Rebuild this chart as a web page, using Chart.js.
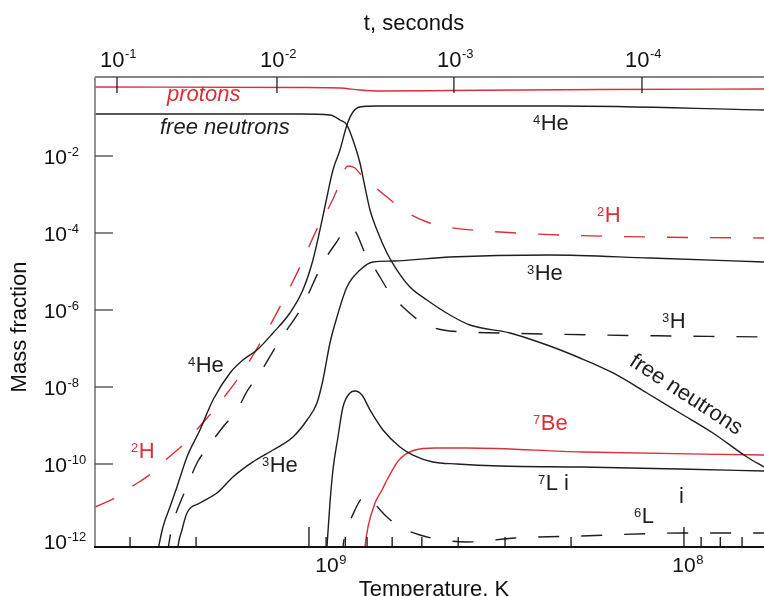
<!DOCTYPE html>
<html><head><meta charset="utf-8">
<script src="https://cdn.jsdelivr.net/npm/chart.js@4.4.1/dist/chart.umd.min.js"></script>
<style>html,body{margin:0;padding:0;background:#fff;}canvas{display:block;}</style>
</head><body>
<canvas id="c" width="764" height="596"></canvas>
<script>
// ---- axis ranges and ticks ----
const tempMin = 6.117e7, tempMax = 3.72e9;
const fracMin = 6.98e-13, fracMax = 1.127;
const fracTickExponents = [-2, -4, -6, -8, -10, -12];
const tempMajorTicks = [1e9, 1e8];
const tempMajorExponents = ['9', '8'];
const tempMinorTicks = [3e9, 2e9, 9e8, 8e8, 7e8, 6e8, 5e8, 4e8, 3e8, 2e8, 9e7, 8e7, 7e7];
const timeTickExponents = ['-1', '-2', '-3', '-4'];
const timeTickTemps = [3.25e9, 1.217e9, 4.106e8, 1.294e8];

// ---- series (temperature K, mass fraction) ----
const protonsT = [3.72e9, 1.057e9, 8.266e8, 7.311e8, 6.466e8, 4.207e8, 1.675e8, 6.117e7];
const protonsF = [0.62, 0.601, 0.583, 0.518, 0.488, 0.503, 0.533, 0.55];

const neutronsT = [3.72e9, 1.057e9, 8.79e8, 8.266e8, 7.92e8, 7.632e8, 7.311e8, 7.09e8, 6.875e8, 6.587e8, 6.194e8, 5.825e8, 5.379e8, 4.846e8, 4.207e8, 3.721e8, 2.911e8, 2.318e8, 1.894e8, 1.546e8, 1.255e8, 1.025e8, 8.37e7, 6.792e7, 6.117e7];
const neutronsF = [0.123, 0.123, 0.116, 0.0861, 0.0638, 0.0261, 6.58e-3, 1.57e-3, 3.96e-4, 1.2e-4, 3.03e-5, 1.09e-5, 3.96e-6, 1.82e-6, 7.41e-7, 4.07e-7, 2.53e-7, 1.23e-7, 5.66e-8, 2.31e-8, 6.98e-9, 2.11e-9, 6.38e-10, 1.52e-10, 8.36e-11];

const he4T = [2.543e9, 2.451e9, 2.348e9, 2.249e9, 2.115e9, 1.953e9, 1.803e9, 1.624e9, 1.5e9, 1.376e9, 1.247e9, 1.124e9, 1.038e9, 9.757e8, 9.347e8, 8.954e8, 8.63e8, 8.266e8, 7.92e8, 7.632e8, 7.311e8, 6.587e8, 2.141e8, 6.117e7];
const he4F = [4.3e-13, 2.31e-12, 7.64e-12, 2.53e-11, 1.52e-10, 7.64e-10, 4.59e-9, 2.31e-8, 5.02e-8, 9.14e-8, 2.53e-7, 8.36e-7, 3.31e-6, 1.99e-5, 1.2e-4, 8.61e-4, 4.33e-3, 0.0143, 0.0638, 0.139, 0.1875, 0.199, 0.199, 0.157];

const h2T = [3.72e9, 3.29e9, 2.947e9, 2.623e9, 2.377e9, 2.141e9, 1.953e9, 1.781e9, 1.644e9, 1.509e9, 1.335e9, 1.195e9, 1.057e9, 9.462e8, 9.065e8, 8.42e8, 8.116e8, 7.87e8, 7.539e8, 7.178e8, 6.875e8, 6.194e8, 5.615e8, 4.846e8, 4.285e8, 3.095e8, 2.141e8, 1.232e8, 6.117e7];
const h2F = [7.64e-12, 1.31e-11, 2.69e-11, 5.83e-11, 1.43e-10, 3.51e-10, 9.7e-10, 2.69e-9, 7.41e-9, 2.31e-8, 1.66e-7, 1.2e-6, 1.31e-5, 1.43e-4, 2.94e-4, 1.31e-3, 3.62e-3, 5.5e-3, 4.88e-3, 2.85e-3, 1.99e-3, 8.61e-4, 3.96e-4, 1.93e-4, 1.43e-4, 1.06e-4, 8.87e-5, 7.87e-5, 7.41e-5];

const h3T = [2.391e9, 2.319e9, 2.208e9, 2.115e9, 1.989e9, 1.859e9, 1.696e9, 1.556e9, 1.455e9, 1.351e9, 1.195e9, 1.044e9, 9.177e8, 8.472e8, 7.87e8, 7.539e8, 7.09e8, 6.587e8, 6.081e8, 5.615e8, 4.966e8, 4.392e8, 3.095e8, 1.675e8, 6.117e7];
const h3F = [4.3e-13, 2.31e-12, 9.7e-12, 2.53e-11, 1.06e-10, 2.77e-10, 9.14e-10, 2.53e-9, 8.36e-9, 2.31e-8, 1.66e-7, 1.2e-6, 1.66e-5, 5.5e-5, 1.35e-4, 1.13e-4, 3.03e-5, 9.7e-6, 2.77e-6, 1.2e-6, 4.59e-7, 3.03e-7, 2.53e-7, 2.24e-7, 1.99e-7];

const he3T = [2.249e9, 2.235e9, 2.181e9, 2.115e9, 1.953e9, 1.759e9, 1.595e9, 1.411e9, 1.247e9, 1.103e9, 1.012e9, 9.521e8, 9.177e8, 8.79e8, 8.42e8, 7.92e8, 7.311e8, 6.75e8, 5.97e8, 4.207e8, 2.276e8, 1.232e8, 6.117e7];
const he3F = [3.2e-13, 6.98e-13, 1.93e-12, 5.33e-12, 9.7e-12, 1.77e-11, 4.59e-11, 1.13e-10, 2.31e-10, 5.02e-10, 1.39e-9, 3.84e-9, 1.52e-8, 1.39e-7, 6.58e-7, 3.96e-6, 1.09e-5, 1.77e-5, 1.87e-5, 2.38e-5, 2.69e-5, 2.24e-5, 1.77e-5];

const li7T = [9.009e8, 8.954e8, 8.79e8, 8.63e8, 8.368e8, 8.116e8, 7.774e8, 7.539e8, 7.222e8, 6.875e8, 6.348e8, 5.719e8, 5.281e8, 4.671e8, 4.03e8, 3.095e8, 1.871e8, 1.025e8, 6.117e7];
const li7F = [3.2e-13, 6.98e-13, 9.7e-12, 6.98e-11, 5.02e-10, 3.03e-9, 6.98e-9, 7.87e-9, 6.19e-9, 2.53e-9, 7.64e-10, 2.77e-10, 1.71e-10, 1.13e-10, 1.0e-10, 8.87e-11, 8.36e-11, 7.41e-11, 6.58e-11];

const be7T = [7.134e8, 7.09e8, 6.96e8, 6.668e8, 6.387e8, 6.194e8, 5.754e8, 5.216e8, 4.613e8, 3.79e8, 1.871e8, 6.117e7];
const be7F = [3.2e-13, 6.98e-13, 2.31e-12, 9.7e-12, 2.11e-11, 3.84e-11, 1.27e-10, 2.31e-10, 2.61e-10, 2.61e-10, 2.05e-10, 1.71e-10];

const li6T = [8.166e8, 8.116e8, 7.87e8, 7.539e8, 7.222e8, 7.003e8, 6.75e8, 6.194e8, 5.719e8, 5.058e8, 4.392e8, 3.79e8, 2.822e8, 1.871e8, 1.012e8, 6.117e7];
const li6F = [3.2e-13, 6.98e-13, 2.31e-12, 6.38e-12, 1.31e-11, 1.48e-11, 1.03e-11, 4.2e-12, 2.31e-12, 1.43e-12, 1.06e-12, 9.4e-13, 1.2e-12, 1.35e-12, 1.61e-12, 1.61e-12];

// ---- styling ----
const RED = '#d8303a';
const INK = '#1e1e1e';
const FONT = "'Liberation Sans', Arial, sans-serif";
const DASH = [21, 22];

const pts = (T, F) => T.map((t, i) => ({x: t, y: F[i]}));
function series(T, F, color, dashed) {
  return {
    data: pts(T, F), borderColor: color, borderWidth: 1.4, pointRadius: 0,
    fill: false, borderDash: dashed ? DASH : [], cubicInterpolationMode: 'monotone', clip: 0
  };
}

// ---- label positions (canvas px) ----
const notes = [
  {sup: '', main: 'protons', x: 167, y: 101, color: RED, italic: true},
  {sup: '', main: 'free neutrons', x: 160, y: 134, color: INK, italic: true},
  {sup: '4', main: 'He', x: 533, y: 130, color: INK},
  {sup: '2', main: 'H', x: 597, y: 222, color: RED},
  {sup: '3', main: 'He', x: 527, y: 280, color: INK},
  {sup: '3', main: 'H', x: 662, y: 328, color: INK},
  {sup: '7', main: 'Be', x: 533, y: 430, color: RED},
  {sup: '7', main: 'L i', x: 538, y: 490, color: INK},
  {sup: '', main: 'i', x: 679, y: 503, color: INK},
  {sup: '6', main: 'L', x: 634, y: 523, color: INK},
  {sup: '4', main: 'He', x: 188, y: 372, color: INK},
  {sup: '2', main: 'H', x: 131, y: 458, color: RED},
  {sup: '3', main: 'He', x: 262, y: 472, color: INK}
];

function seg(ctx, x1, y1, x2, y2) { ctx.beginPath(); ctx.moveTo(x1, y1); ctx.lineTo(x2, y2); ctx.stroke(); }

const decor = {
  id: 'decor',
  afterDraw(chart) {
    const {ctx, chartArea: a} = chart;
    const xs = chart.scales.x, ys = chart.scales.y;
    ctx.save();
    ctx.lineCap = 'butt';
    // frame
    ctx.lineWidth = 1.8;
    ctx.strokeStyle = '#858585';
    seg(ctx, a.left, a.top, a.right, a.top);
    seg(ctx, a.left, a.top, a.left, a.bottom + 1);
    ctx.strokeStyle = '#111';
    seg(ctx, a.left - 1, a.bottom, a.right, a.bottom);

    // y ticks + labels
    ctx.lineWidth = 1.3;
    ctx.strokeStyle = '#444';
    ctx.fillStyle = '#111';
    ctx.textBaseline = 'alphabetic';
    fracTickExponents.forEach(e => {
      const py = ys.getPixelForValue(Math.pow(10, e));
      if (e > -12) seg(ctx, a.left, py, a.left + 18, py);
      ctx.font = '21px ' + FONT; ctx.textAlign = 'right';
      ctx.fillText('10', 67, py + 8);
      ctx.font = '13px ' + FONT; ctx.textAlign = 'left';
      ctx.fillText(String(e), 67.5, py);
    });

    // bottom ticks + labels
    ctx.strokeStyle = '#111';
    tempMinorTicks.forEach(v => {
      const px = xs.getPixelForValue(v);
      if (px > a.left + 2 && px < a.right - 1) seg(ctx, px, a.bottom, px, a.bottom - 10);
    });
    tempMajorTicks.forEach((v, i) => {
      const px = xs.getPixelForValue(v);
      seg(ctx, px, a.bottom, px, a.bottom - 20);
      const lx = px + (v === 1e9 ? 18 : 0);
      ctx.font = '21px ' + FONT; ctx.textAlign = 'center';
      ctx.fillText('10', lx, a.bottom + 25);
      const w = ctx.measureText('10').width;
      ctx.font = '13px ' + FONT; ctx.textAlign = 'left';
      ctx.fillText(tempMajorExponents[i], lx + w / 2 + 0.5, a.bottom + 17);
    });

    // top (time) ticks + labels
    ctx.strokeStyle = '#222';
    timeTickTemps.forEach((v, i) => {
      const px = xs.getPixelForValue(v);
      seg(ctx, px, a.top, px, a.top + 16);
      ctx.font = '22px ' + FONT;
      const w1 = ctx.measureText('10').width;
      ctx.font = '13px ' + FONT;
      const w2 = ctx.measureText(timeTickExponents[i]).width;
      const left = px + 1 - (w1 + w2) / 2;
      ctx.textAlign = 'left';
      ctx.font = '22px ' + FONT;
      ctx.fillText('10', left, a.top - 10);
      ctx.font = '13px ' + FONT;
      ctx.fillText(timeTickExponents[i], left + w1 + 0.5, a.top - 19);
    });

    // axis titles
    ctx.fillStyle = '#111';
    ctx.font = '22px ' + FONT;
    ctx.textAlign = 'center';
    ctx.fillText('t, seconds', 414, 30);
    ctx.fillText('Temperature, K', 434, 596);
    ctx.save();
    ctx.translate(26, 327);
    ctx.rotate(-Math.PI / 2);
    ctx.fillText('Mass fraction', 0, 0);
    ctx.restore();

    // curve annotations
    notes.forEach(n => {
      ctx.fillStyle = n.color;
      ctx.textAlign = 'left';
      let x = n.x;
      if (n.sup) {
        ctx.font = '13px ' + FONT;
        ctx.fillText(n.sup, x, n.y - 6);
        x += ctx.measureText(n.sup).width + 0.5;
      }
      ctx.font = (n.italic ? 'italic ' : '') + '22px ' + FONT;
      ctx.fillText(n.main, x, n.y);
    });
    // rotated label along the free-neutron tail
    ctx.save();
    ctx.fillStyle = INK;
    ctx.translate(686, 395);
    ctx.rotate(33 * Math.PI / 180);
    ctx.font = '22px ' + FONT;
    ctx.textAlign = 'center';
    ctx.textBaseline = 'middle';
    ctx.fillText('free neutrons', 0, 0);
    ctx.restore();

    ctx.restore();
  }
};

new Chart(document.getElementById('c'), {
  type: 'line',
  data: {
    datasets: [
      series(neutronsT, neutronsF, INK, false),
      series(he4T, he4F, INK, false),
      series(he3T, he3F, INK, false),
      series(h3T, h3F, INK, true),
      series(li7T, li7F, INK, false),
      series(li6T, li6F, INK, true),
      series(h2T, h2F, RED, true),
      series(be7T, be7F, RED, false),
      series(protonsT, protonsF, RED, false)
    ]
  },
  options: {
    responsive: false,
    animation: false,
    devicePixelRatio: 1,
    layout: {padding: {top: 77, left: 0, right: 0, bottom: 0}},
    plugins: {legend: {display: false}, tooltip: {enabled: false}},
    scales: {
      x: {
        type: 'logarithmic', position: 'bottom', reverse: true,
        min: tempMin, max: tempMax,
        ticks: {display: false}, grid: {display: false}, border: {display: false},
        afterFit: s => { s.height = 49; }
      },
      y: {
        type: 'logarithmic', position: 'left',
        min: fracMin, max: fracMax,
        ticks: {display: false}, grid: {display: false}, border: {display: false},
        afterFit: s => { s.width = 95; }
      }
    }
  },
  plugins: [decor]
});
</script>
</body></html>
